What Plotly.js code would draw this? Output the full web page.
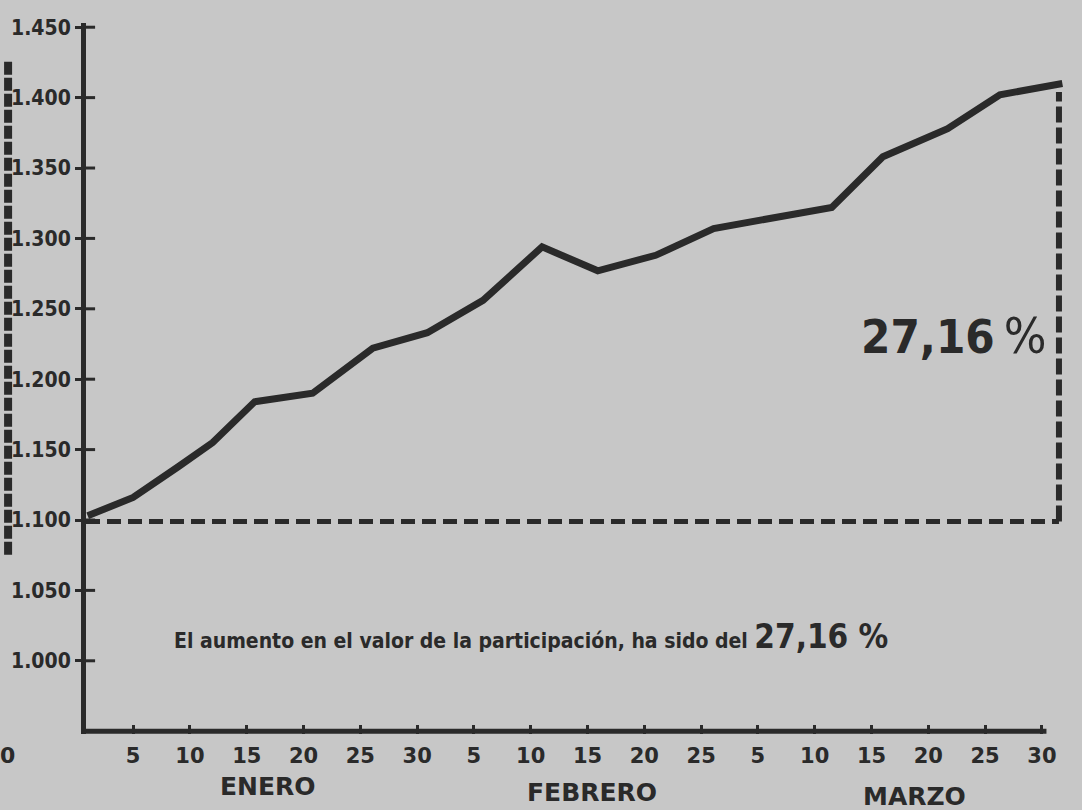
<!DOCTYPE html>
<html>
<head>
<meta charset="utf-8">
<script src="https://cdn.plot.ly/plotly-3.0.1.min.js"></script>
<style>
  html, body { margin: 0; padding: 0; background: #c7c7c7; }
  #chart { width: 1082px; height: 810px; }
</style>
</head>
<body>
<div id="chart"></div>
<script>
// ---- data ----
// day index counted from 1 January (ticks every 5 days, evenly spaced as printed)
const days   = [1, 5, 9, 12, 15.7, 20.8, 26.1, 30.9, 35.8, 41, 45.9, 51, 56.1, 60.2, 66.5, 71, 76.7, 81.3, 86.8];
const values = [1103, 1116, 1138, 1155, 1184, 1190, 1222, 1233, 1256, 1294, 1277, 1288, 1307, 1313, 1322, 1358, 1378, 1402, 1410];

const tickDays   = [5, 10, 15, 20, 25, 30, 35, 40, 45, 50, 55, 60, 65, 70, 75, 80, 85];
const tickLabels = ["5", "10", "15", "20", "25", "30", "5", "10", "15", "20", "25", "5", "10", "15", "20", "25", "30"];
const monthNames = ["ENERO", "FEBRERO", "MARZO"];

const yTicks = [1000, 1050, 1100, 1150, 1200, 1250, 1300, 1350, 1400, 1450];
const yTickLabels = ["1.000", "1.050", "1.100", "1.150", "1.200", "1.250", "1.300", "1.350", "1.400", "1.450"];

const baseValue = 1099;      // dashed reference level
const increaseText = "27,16";

// ---- styling / layout constants ----
const INK = "#2a2a2a";
const BG = "#c7c7c7";
const xStart = 0.85, xAxisEnd = 85.4, xMax = 88;
const yMin = 948, yMax = 1453;
const monthCenters = [16.9, 45.4, 73.8];
const monthYs = [-0.074, -0.082, -0.088];

const trace = {
  x: days, y: values, type: "scatter", mode: "lines",
  line: { color: INK, width: 7, shape: "linear" },
  hoverinfo: "skip"
};

const annotations = [];
monthNames.forEach((m, i) => {
  annotations.push({
    x: monthCenters[i], xref: "x", y: monthYs[i], yref: "paper",
    text: m, showarrow: false, xanchor: "center", yanchor: "middle",
    font: { family: "DejaVu Sans, sans-serif", size: 25, weight: "bold", color: INK }
  });
});

// caption
annotations.push({
  x: 8.4, xref: "x", y: 1017, yref: "y",
  text: "El aumento en el valor de la participación, ha sido del <span style=\"font-size:33px\">" + increaseText + " %</span>",
  showarrow: false, xanchor: "left", yanchor: "middle",
  font: { family: "DejaVu Sans Condensed, sans-serif", size: 21, weight: "bold", color: INK }
});

// big percentage
annotations.push({
  x: 68.9, xref: "x", y: 1231, yref: "y",
  text: "<b>" + increaseText + "</b><span style=\"font-weight:normal;font-size:50px\">\u2009%</span>",
  showarrow: false, xanchor: "left", yanchor: "middle",
  font: { family: "DejaVu Sans Condensed, sans-serif", size: 47, color: INK }
});

// artefact "0" from neighbouring chart at left edge
annotations.push({
  x: -0.079, xref: "paper", y: -0.03, yref: "paper",
  text: "0", showarrow: false, xanchor: "center", yanchor: "middle",
  font: { family: "DejaVu Sans, sans-serif", size: 22, weight: "bold", color: INK }
});

const shapes = [];
// x axis line
shapes.push({ type: "line", xref: "x", yref: "y", x0: xStart, x1: xAxisEnd, y0: yMin + 2, y1: yMin + 2,
  line: { color: INK, width: 5 } });
// inner part of the crossing y ticks
yTicks.forEach(v => {
  shapes.push({ type: "line", xref: "x", yref: "y", x0: xStart, x1: xStart + 0.8, y0: v, y1: v,
    line: { color: INK, width: 3 } });
});
// dashed base level
shapes.push({ type: "line", xref: "x", yref: "y", x0: xStart, x1: days[days.length - 1] - 0.3, y0: baseValue, y1: baseValue,
  line: { color: INK, width: 5, dash: "14px,7px" } });
// dashed vertical at final value
shapes.push({ type: "line", xref: "x", yref: "y", x0: days[days.length - 1] - 0.3, x1: days[days.length - 1] - 0.3,
  y0: baseValue, y1: values[values.length - 1] - 6,
  line: { color: INK, width: 6, dash: "16px,5px" } });
// artefact bar at the far left (neighbouring chart)
shapes.push({ type: "line", xref: "paper", yref: "paper", x0: -0.0787, x1: -0.0787, y0: 0.252, y1: 0.948,
  line: { color: INK, width: 8, dash: "13px,3px" } });

const layout = {
  width: 1082, height: 810,
  margin: { l: 86, r: 6, t: 23, b: 76 },
  paper_bgcolor: BG, plot_bgcolor: BG,
  showlegend: false,
  xaxis: {
    range: [xStart, xMax], showgrid: false, zeroline: false, showline: false,
    tickmode: "array", tickvals: tickDays, ticktext: tickLabels,
    ticks: "inside", ticklen: 9, tickwidth: 3, tickcolor: INK,
    ticklabelstandoff: 7,
    tickfont: { family: "DejaVu Sans, sans-serif", size: 21, weight: "bold", color: INK }
  },
  yaxis: {
    range: [yMin, yMax], showgrid: false, zeroline: false,
    showline: true, linewidth: 5, linecolor: INK,
    tickmode: "array", tickvals: yTicks, ticktext: yTickLabels,
    ticks: "outside", ticklen: 6, tickwidth: 3, tickcolor: INK,
    tickfont: { family: "DejaVu Sans Condensed, sans-serif", size: 21, weight: "bold", color: INK }
  },
  annotations: annotations,
  shapes: shapes
};

Plotly.newPlot("chart", [trace], layout, { staticPlot: true, displayModeBar: false });
</script>
</body>
</html>
